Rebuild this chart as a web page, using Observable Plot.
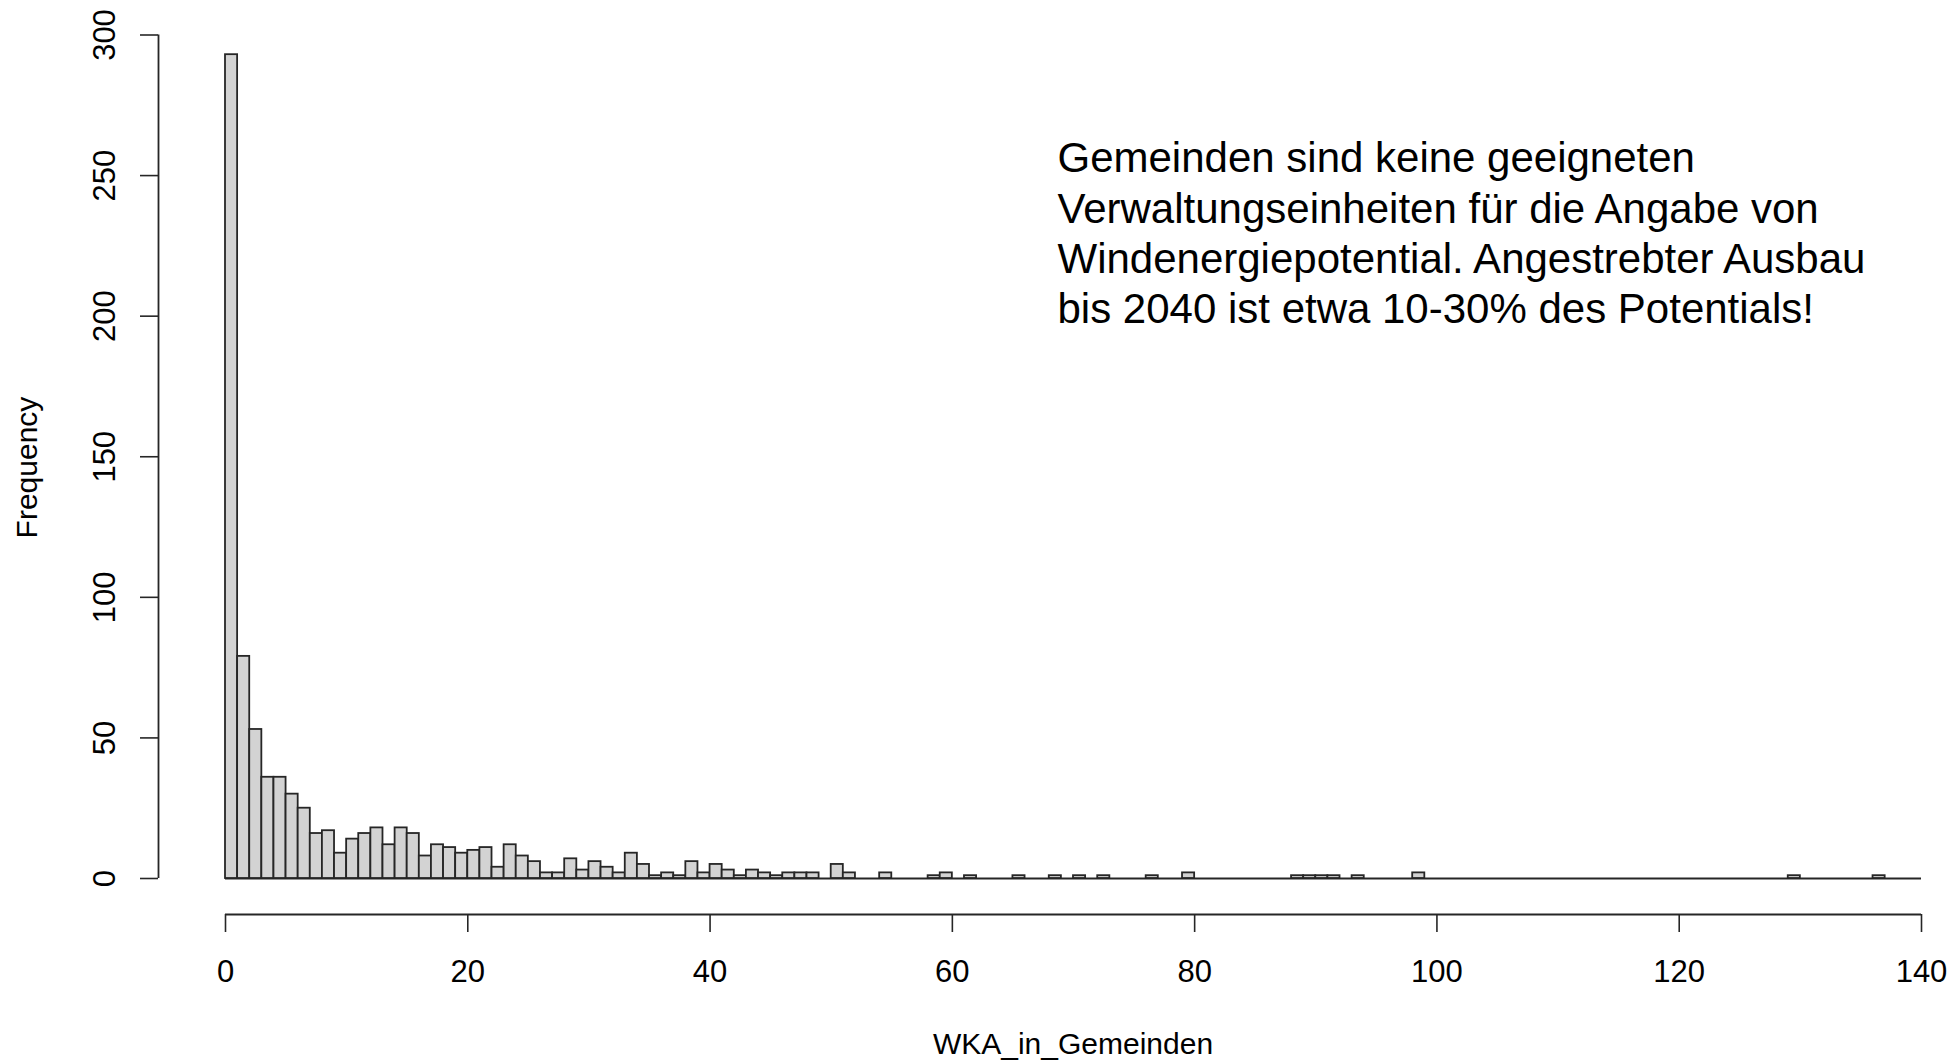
<!DOCTYPE html>
<html>
<head>
<meta charset="utf-8">
<script src="https://cdn.jsdelivr.net/npm/d3@7"></script>
<script src="https://cdn.jsdelivr.net/npm/@observablehq/plot@0.6"></script>
<style>
  html, body { margin: 0; padding: 0; background: #fff; }
  body { width: 1952px; height: 1061px; overflow: hidden; position: relative; }
  #edge { position: absolute; left: 3px; top: 0; width: 2px; height: 1061px; background: #c9d9ee; }
  #chart { position: absolute; left: 0; top: 0; }
</style>
</head>
<body>
<div id="edge"></div>
<div id="chart"></div>
<script>
// Histogram bin breaks (width 1, from 0 to 140)
const breaks = d3.range(0, 141);

// Frequency per bin [k, k+1)
const freq = [
  293, 79, 53, 36, 36, 30, 25, 16, 17, 9,
  14, 16, 18, 12, 18, 16, 8, 12, 11, 9,
  10, 11, 4, 12, 8, 6, 2, 2, 7, 3,
  6, 4, 2, 9, 5, 1, 2, 1, 6, 2,
  5, 3, 1, 3, 2, 1, 2, 2, 2, 0,
  5, 2, 0, 0, 2, 0, 0, 0, 1, 2,
  0, 1, 0, 0, 0, 1, 0, 0, 1, 0,
  1, 0, 1, 0, 0, 0, 1, 0, 0, 2,
  0, 0, 0, 0, 0, 0, 0, 0, 1, 1,
  1, 1, 0, 1, 0, 0, 0, 0, 2, 0,
  0, 0, 0, 0, 0, 0, 0, 0, 0, 0,
  0, 0, 0, 0, 0, 0, 0, 0, 0, 0,
  0, 0, 0, 0, 0, 0, 0, 0, 0, 1,
  0, 0, 0, 0, 0, 0, 1, 0, 0, 0
];

const xTicks = [0, 20, 40, 60, 80, 100, 120, 140];
const yTicks = [0, 50, 100, 150, 200, 250, 300];
const xTitle = "WKA_in_Gemeinden";
const yTitle = "Frequency";
const noteLines = [
  "Gemeinden sind keine geeigneten",
  "Verwaltungseinheiten für die Angabe von",
  "Windenergiepotential. Angestrebter Ausbau",
  "bis 2040 ist etwa 10-30% des Potentials!"
];

const bins = freq.map((f, i) => ({x1: breaks[i], x2: breaks[i + 1], f}));
const xDomain = [breaks[0], breaks[breaks.length - 1]];
const yDomain = [yTicks[0], yTicks[yTicks.length - 1]];

const ink = "#262626";
const font = '"Liberation Sans", Arial, Helvetica, sans-serif';

const chart = Plot.plot({
  width: 1952,
  height: 1061,
  marginLeft: 158,
  marginRight: 31,
  marginTop: 34,
  marginBottom: 147,
  style: {fontFamily: font, fontSize: "30px", color: "#000", background: "#fff", overflow: "visible"},
  x: {domain: xDomain, range: [225, 1921]},
  y: {domain: yDomain, range: [878, 34.5]},
  marks: [
    // baseline drawn by zero-height bins in R
    Plot.ruleY([0], {x1: () => xDomain[0], x2: () => xDomain[1], stroke: ink, strokeWidth: 1.8}),
    Plot.rectY(bins.filter(d => d.f > 0), {
      x1: "x1", x2: "x2", y: "f",
      fill: "#d3d3d3", stroke: ink, strokeWidth: 1.8, inset: 0
    }),
    // x axis (detached below the plot, R style)
    Plot.ruleY([0], {x1: () => xDomain[0], x2: () => xDomain[1], dy: 36, stroke: ink, strokeWidth: 1.8}),
    Plot.axisX(xTicks, {anchor: "bottom", tickSize: 18, tickPadding: 27, fontSize: 31, label: null, stroke: ink, strokeWidth: 1.6}),
    // y axis
    Plot.ruleX([0], {x: () => xDomain[0], y1: () => yDomain[0], y2: () => yDomain[1], dx: -67, stroke: ink, strokeWidth: 1.8}),
    Plot.axisY(yTicks, {anchor: "left", tickSize: 18, tickFormat: () => "", label: null, stroke: ink, strokeWidth: 1.6}),
    Plot.text(yTicks, {
      y: d => d, text: d => String(d), frameAnchor: "left",
      rotate: -90, textAnchor: "middle", lineAnchor: "bottom", dx: -44, fontSize: 31, fill: "#000"
    }),
    // axis titles
    Plot.text([yTitle], {
      text: d => d, frameAnchor: "left", rotate: -90, textAnchor: "middle",
      lineAnchor: "bottom", dx: -122, dy: -7, fontSize: 30, fill: "#000"
    }),
    Plot.text([xTitle], {
      text: d => d, frameAnchor: "bottom", textAnchor: "middle",
      lineAnchor: "top", dx: 33, dy: 118, fontSize: 30, fill: "#000"
    }),
    // annotation
    Plot.text([noteLines.join("\n")], {
      text: d => d, frameAnchor: "top-left", textAnchor: "start",
      lineAnchor: "top", dx: 899, dy: 102, fontSize: 42, lineHeight: 1.2, fill: "#000"
    })
  ]
});

document.getElementById("chart").appendChild(chart);
</script>
</body>
</html>
